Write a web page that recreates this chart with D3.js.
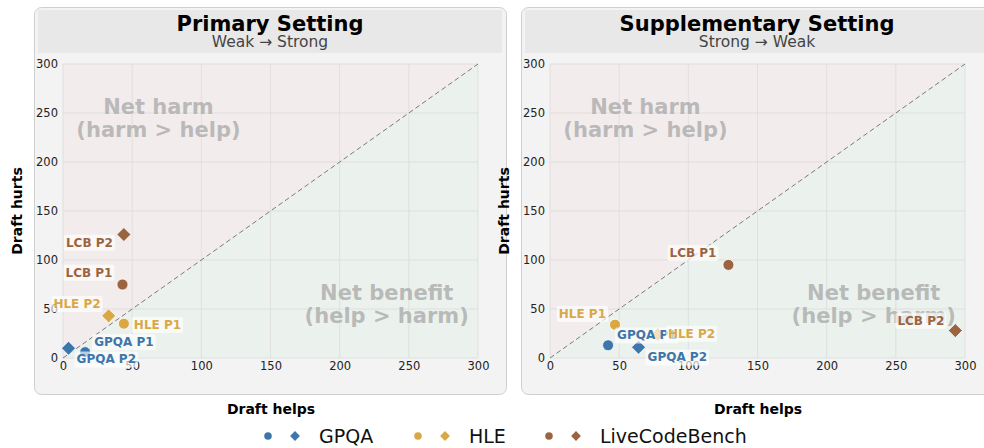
<!DOCTYPE html>
<html>
<head>
<meta charset="utf-8">
<script src="https://cdn.jsdelivr.net/npm/d3@7"></script>
<style>
  body { margin: 0; background: #fff; font-family: "DejaVu Sans", sans-serif; }
  svg { display: block; }
</style>
</head>
<body>
<svg id="chart" width="984" height="448"></svg>
<script>
// data
const datasets = ["GPQA", "HLE", "LiveCodeBench"]
const shortNames = ["GPQA", "HLE", "LCB"]
const colors = ["#3d76aa", "#d9a845", "#9b6441"]
const ticks = [0, 50, 100, 150, 200, 250, 300]

// [helps, hurts] for P1 (circle) and P2 (diamond), per dataset
const primaryP1 = [[16, 6], [44, 35], [43, 75]]
const primaryP2 = [[4, 10], [33, 43], [44, 126]]
const suppP1 = [[42, 13], [47, 34], [129, 95]]
const suppP2 = [[64, 11], [78, 24], [293, 28]]

// label nudges in pixels (anchor, dx, dy) - placed by hand, like adjustText did
const primaryLabelP1 = [["start", 9, -10], ["start", 10, 1], ["end", -10, -12]]
const primaryLabelP2 = [["start", 8, 11], ["end", -8, -12], ["end", -11, 8]]
const suppLabelP1 = [["start", 9, -10], ["end", -9, -11], ["end", -12, -12]]
const suppLabelP2 = [["start", 9, 10], ["start", 10, -1], ["end", -11, -10]]

const panels = [
  { title: "Primary Setting", sub: "Weak \u2192 Strong", left: 34, p1: primaryP1, p2: primaryP2, l1: primaryLabelP1, l2: primaryLabelP2 },
  { title: "Supplementary Setting", sub: "Strong \u2192 Weak", left: 521, p1: suppP1, p2: suppP2, l1: suppLabelP1, l2: suppLabelP2 }
]

const svg = d3.select("#chart")
const boxW = 472, boxTop = 7, boxH = 387

// diamond = square turned 45 degrees (matplotlib 'D')
const shapePath = (kind, size) => d3.symbol().type(kind === "circle" ? d3.symbolCircle : d3.symbolSquare).size(size)()
const shapeRot = kind => kind === "circle" ? "" : " rotate(45)"

panels.forEach(p => {
  const g = svg.append("g").attr("transform", "translate(" + p.left + ",0)")

  g.append("rect")
    .attr("x", 0.5).attr("y", boxTop + 0.5)
    .attr("width", boxW).attr("height", boxH)
    .attr("rx", 7)
    .attr("fill", "#f3f3f3").attr("stroke", "#cfcfcf")

  g.append("rect")
    .attr("x", 4).attr("y", 10)
    .attr("width", boxW - 8).attr("height", 43)
    .attr("fill", "#e8e8e8")

  g.append("text")
    .attr("x", boxW / 2).attr("y", 31)
    .attr("text-anchor", "middle")
    .attr("font-size", 21).attr("font-weight", "bold").attr("fill", "#000")
    .text(p.title)
  g.append("text")
    .attr("x", boxW / 2).attr("y", 47)
    .attr("text-anchor", "middle")
    .attr("font-size", 15.5).attr("fill", "#444")
    .text(p.sub)

  const x = d3.scaleLinear().domain([0, 300]).range([29, 444])
  const y = d3.scaleLinear().domain([0, 300]).range([351, 57])
  const plot = g.append("g").attr("transform", "translate(0,7)")

  // shaded regions
  plot.append("path")
    .attr("d", d3.line()([[x(0), y(0)], [x(0), y(300)], [x(300), y(300)]]) + "Z")
    .attr("fill", "#f3ecec")
  plot.append("path")
    .attr("d", d3.line()([[x(0), y(0)], [x(300), y(0)], [x(300), y(300)]]) + "Z")
    .attr("fill", "#ebf1ec")

  // grid
  plot.append("g").selectAll("line").data(ticks).join("line")
    .attr("x1", d => x(d)).attr("x2", d => x(d))
    .attr("y1", y(0)).attr("y2", y(300))
    .attr("stroke", "#dcdcdc").attr("stroke-width", 0.8)
  plot.append("g").selectAll("line").data(ticks).join("line")
    .attr("y1", d => y(d)).attr("y2", d => y(d))
    .attr("x1", x(0)).attr("x2", x(300))
    .attr("stroke", "#dcdcdc").attr("stroke-width", 0.8)

  // axes (labels only)
  const xAxis = plot.append("g").attr("transform", "translate(0," + y(0) + ")")
    .call(d3.axisBottom(x).tickValues(ticks).tickSize(0).tickPadding(4))
  const yAxis = plot.append("g").attr("transform", "translate(" + x(0) + ",0)")
    .call(d3.axisLeft(y).tickValues(ticks).tickSize(0).tickPadding(5))
  ;[xAxis, yAxis].forEach(a => {
    a.select(".domain").remove()
    a.selectAll("text").attr("font-size", 11.5).attr("fill", "#222")
      .attr("font-family", "DejaVu Sans, sans-serif")
  })

  // region labels
  const region = (lines, cx, cy) => {
    const t = plot.append("text")
      .attr("text-anchor", "middle")
      .attr("font-size", 21).attr("font-weight", "bold")
      .attr("fill", "#a8a8a8").attr("fill-opacity", 0.75)
    lines.forEach((s, i) => {
      t.append("tspan").attr("x", x(cx)).attr("y", y(cy) + i * 23).text(s)
    })
  }
  region(["Net harm", "(harm > help)"], 69, 249)
  region(["Net benefit", "(help > harm)"], 234, 59)

  // diagonal
  plot.append("line")
    .attr("x1", x(0)).attr("y1", y(0)).attr("x2", x(300)).attr("y2", y(300))
    .attr("stroke", "#7a7a7a").attr("stroke-width", 1).attr("stroke-dasharray", "5,3")

  // points
  const pts = []
  datasets.forEach((ds, i) => {
    pts.push({ v: p.p1[i], c: colors[i], kind: "circle", label: shortNames[i] + " P1", lab: p.l1[i] })
    pts.push({ v: p.p2[i], c: colors[i], kind: "diamond", label: shortNames[i] + " P2", lab: p.l2[i] })
  })
  plot.append("g").selectAll("path").data(pts).join("path")
    .attr("transform", d => "translate(" + x(d.v[0]) + "," + y(d.v[1]) + ")" + shapeRot(d.kind))
    .attr("d", d => shapePath(d.kind, d.kind === "circle" ? 95 : 100))
    .attr("fill", d => d.c).attr("stroke", "#fff").attr("stroke-width", 0.8)

  // labels with soft white boxes
  pts.forEach(d => {
    const lg = plot.append("g")
    const t = lg.append("text")
      .attr("x", x(d.v[0]) + d.lab[1]).attr("y", y(d.v[1]) + d.lab[2])
      .attr("dy", "0.35em")
      .attr("text-anchor", d.lab[0])
      .attr("font-size", 12).attr("font-weight", "bold").attr("fill", d.c)
      .text(d.label)
    const bb = t.node().getBBox()
    lg.insert("rect", "text")
      .attr("x", bb.x - 2).attr("y", bb.y - 1)
      .attr("width", bb.width + 4).attr("height", bb.height + 2)
      .attr("rx", 2)
      .attr("fill", "#fff").attr("fill-opacity", 0.65)
  })

  // axis titles
  g.append("text")
    .attr("transform", "translate(" + (-12) + "," + 211 + ") rotate(-90)")
    .attr("text-anchor", "middle")
    .attr("font-size", 14).attr("font-weight", "bold")
    .text("Draft hurts")
  g.append("text")
    .attr("x", boxW / 2 + 1).attr("y", 414)
    .attr("text-anchor", "middle")
    .attr("font-size", 14).attr("font-weight", "bold")
    .text("Draft helps")
})

// legend
const legendX = [268, 418, 549]
const leg = svg.append("g")
datasets.forEach((ds, i) => {
  const lx = legendX[i]
  leg.append("path")
    .attr("transform", "translate(" + lx + ",436)")
    .attr("d", shapePath("circle", 45))
    .attr("fill", colors[i])
  leg.append("path")
    .attr("transform", "translate(" + (lx + 27) + ",436)" + shapeRot("diamond"))
    .attr("d", shapePath("diamond", 48))
    .attr("fill", colors[i])
  leg.append("text")
    .attr("x", lx + 51).attr("y", 443)
    .attr("font-size", 19).attr("fill", "#111")
    .text(ds)
})
</script>
</body>
</html>
